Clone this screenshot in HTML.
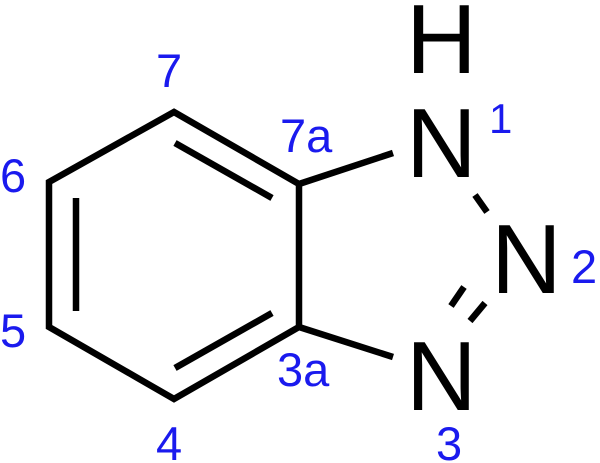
<!DOCTYPE html>
<html><head><meta charset="utf-8"><style>html,body{margin:0;padding:0;background:#fff}svg{display:block}</style></head>
<body>
<svg width="600" height="463" viewBox="0 0 600 463" xmlns="http://www.w3.org/2000/svg">
<g stroke="#000" stroke-width="6.5" fill="none" stroke-linecap="butt" stroke-linejoin="miter">
<polygon points="174,112 299,184 299,327 174,399 49,327 49,182"/>
<line x1="76" y1="198" x2="76" y2="311"/>
<line x1="175" y1="143" x2="272" y2="198"/>
<line x1="175" y1="368" x2="272" y2="313"/>
<line x1="299" y1="184" x2="393" y2="153"/>
<line x1="299" y1="327" x2="393" y2="357"/>
<line x1="475" y1="195" x2="487" y2="212"/>
<line x1="451" y1="306" x2="464" y2="287"/>
<line x1="470" y1="321" x2="485" y2="303"/>
</g>
<g font-family="Liberation Sans, Arial, sans-serif" fill="#000" font-size="98">
<text x="406" y="73">H</text>
<text x="406" y="177">N</text>
<text x="491" y="293">N</text>
<text x="406" y="410">N</text>
</g>
<g font-family="Liberation Sans, Arial, sans-serif" fill="#1a1aee" font-size="47">
<text x="489" y="133" font-size="42">1</text>
<text x="571" y="283">2</text>
<text x="436" y="460">3</text>
<text x="156" y="87">7</text>
<text x="0" y="192">6</text>
<text x="0" y="347">5</text>
<text x="156" y="460">4</text>
<text x="280" y="152">7a</text>
<text x="277" y="386">3a</text>
</g>
</svg>
</body></html>
